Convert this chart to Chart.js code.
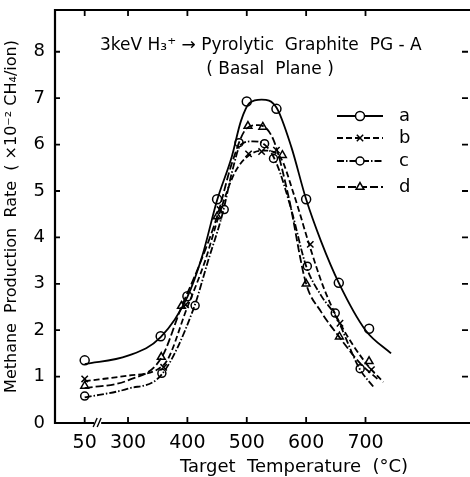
<!DOCTYPE html>
<html>
<head>
<meta charset="utf-8">
<script src="https://cdn.jsdelivr.net/npm/chart.js"></script>
<style>
  html, body { margin: 0; padding: 0; background: #fff; }
  #wrap { width: 470px; height: 477px; }
</style>
</head>
<body>
<div id="wrap"><canvas id="chart" width="470" height="477"></canvas></div>
<script>
// measured points (temperature in degC, rate in 1e-2 CH4/ion)
const tempA = [50, 355, 400, 450, 500, 550, 600, 655, 706];
const rateA = [1.35, 1.87, 2.73, 4.82, 6.93, 6.77, 4.82, 3.02, 2.03];
const tempB = [50, 360, 397, 455, 503, 525, 550, 607, 657, 710];
const rateB = [0.95, 1.2, 2.55, 4.6, 5.8, 5.85, 5.88, 3.85, 2.15, 1.15];
const tempC = [50, 357, 413, 462, 487, 530, 545, 602, 649, 691];
const rateC = [0.58, 1.07, 2.53, 4.6, 6.04, 6.02, 5.7, 3.38, 2.37, 1.17];
const tempD = [50, 356, 390, 450, 502, 527, 560, 600, 656, 706];
const rateD = [0.8, 1.42, 2.52, 4.45, 6.4, 6.38, 5.77, 3.0, 1.86, 1.33];

// hand drawn fit curves
const curveTempA = [50, 300, 355, 400, 425, 450, 475, 490, 505, 525, 550, 575, 600, 625, 655, 700, 743];
const curveRateA = [1.27, 1.45, 1.85, 2.72, 3.6, 4.8, 5.75, 6.5, 6.9, 6.97, 6.8, 5.95, 4.82, 3.92, 3.02, 2.0, 1.5];
const curveTempB = [50, 300, 360, 400, 430, 455, 480, 505, 530, 555, 580, 605, 630, 657, 700, 730];
const curveRateB = [0.9, 1.02, 1.25, 2.5, 3.5, 4.55, 5.4, 5.78, 5.87, 5.75, 4.9, 3.85, 2.9, 2.15, 1.3, 0.88];
const curveTempC = [50, 300, 357, 410, 435, 460, 475, 490, 510, 530, 550, 575, 600, 625, 650, 690, 714];
const curveRateC = [0.55, 0.74, 1.05, 2.45, 3.5, 4.55, 5.4, 6.0, 6.07, 6.0, 5.6, 4.6, 3.38, 2.75, 2.3, 1.17, 0.77];
const curveTempD = [50, 300, 356, 390, 420, 450, 475, 500, 520, 545, 570, 600, 625, 656, 690, 720];
const curveRateD = [0.75, 0.92, 1.4, 2.5, 3.4, 4.45, 5.6, 6.35, 6.42, 6.1, 4.9, 3.0, 2.4, 1.85, 1.3, 0.95];

const xTickTemps = [50, 300, 400, 500, 600, 700];
const yTicks = [0, 1, 2, 3, 4, 5, 6, 7, 8];
const seriesNames = ['a', 'b', 'c', 'd'];

// the axis is broken between 50 and 300: 50 sits at this axis position
const BREAK_POS = 227;
const pos = t => (t === 50 ? BREAK_POS : t);
const toXY = (ts, vs) => ts.map((t, i) => ({ x: pos(t), y: vs[i] }));

const FONT = '"DejaVu Sans", sans-serif';
const styles = [
  { dash: [], point: 'circle', r: 4.5 },
  { dash: [6, 3], point: 'crossRot', r: 4.5 },
  { dash: [7, 2, 1.5, 2], point: 'circle', r: 4 },
  { dash: [8, 3], point: 'triangle', r: 4.5 }
];

const curves = [[curveTempA, curveRateA], [curveTempB, curveRateB], [curveTempC, curveRateC], [curveTempD, curveRateD]];
const points = [[tempA, rateA], [tempB, rateB], [tempC, rateC], [tempD, rateD]];

const datasets = [];
curves.forEach((c, i) => {
  datasets.push({
    label: seriesNames[i] + ' fit',
    data: toXY(c[0], c[1]),
    showLine: true,
    borderColor: '#000',
    borderWidth: 1.8,
    borderDash: styles[i].dash,
    pointRadius: 0,
    cubicInterpolationMode: 'monotone',
    fill: false
  });
});
points.forEach((p, i) => {
  datasets.push({
    label: seriesNames[i],
    data: toXY(p[0], p[1]),
    showLine: false,
    pointStyle: styles[i].point,
    pointRadius: styles[i].r,
    pointBackgroundColor: '#fff',
    pointBorderColor: '#000',
    pointBorderWidth: 1.5
  });
});

const decor = {
  id: 'decor',
  afterDraw(chart) {
    const { ctx, chartArea: a, scales: { x, y } } = chart;
    ctx.save();
    ctx.strokeStyle = '#000';
    ctx.fillStyle = '#000';
    ctx.setLineDash([]);

    // frame: left, top, bottom (the right edge runs off the picture)
    ctx.lineWidth = 2.2;
    ctx.beginPath();
    ctx.moveTo(a.right, a.top); ctx.lineTo(a.left, a.top);
    ctx.lineTo(a.left, a.bottom); ctx.lineTo(a.right, a.bottom);
    ctx.stroke();

    // inward ticks
    ctx.lineWidth = 1.8;
    yTicks.forEach(v => {
      const py = y.getPixelForValue(v);
      ctx.beginPath();
      ctx.moveTo(a.left, py); ctx.lineTo(a.left + 5, py);
      ctx.moveTo(a.right - 2, py); ctx.lineTo(a.right - 8, py);
      ctx.stroke();
    });
    xTickTemps.forEach(t => {
      const px = x.getPixelForValue(pos(t));
      ctx.beginPath();
      ctx.moveTo(px, a.bottom); ctx.lineTo(px, a.bottom - 6);
      ctx.moveTo(px, a.top); ctx.lineTo(px, a.top + 6);
      ctx.stroke();
    });

    // break mark on the x axis
    const bx = x.getPixelForValue(248);
    ctx.fillStyle = '#fff';
    ctx.fillRect(bx - 3, a.bottom - 3, 7, 6);
    ctx.lineWidth = 1.4;
    [-2, 2].forEach(d => {
      ctx.beginPath();
      ctx.moveTo(bx + d - 2, a.bottom + 4);
      ctx.lineTo(bx + d + 2, a.bottom - 5);
      ctx.stroke();
    });
    ctx.fillStyle = '#000';

    // annotation
    ctx.textBaseline = 'middle';
    ctx.textAlign = 'left';
    ctx.font = '17px ' + FONT;
    ctx.fillText('3keV H\u2083\u207A \u2192 Pyrolytic  Graphite  PG - A', 100, 46);
    ctx.textAlign = 'center';
    ctx.fillText('( Basal  Plane )', 270, 70);

    // legend
    const rows = [116, 138, 161, 187];
    rows.forEach((ry, i) => {
      ctx.lineWidth = 1.8;
      ctx.setLineDash(styles[i].dash);
      ctx.beginPath();
      ctx.moveTo(337, ry); ctx.lineTo(383, ry);
      ctx.stroke();
      ctx.setLineDash([]);
      ctx.lineWidth = 1.5;
      ctx.fillStyle = '#fff';
      Chart.helpers.drawPoint(ctx, { pointStyle: styles[i].point, radius: styles[i].r, rotation: 0, borderWidth: 1.5 }, 360, ry);
      ctx.fillStyle = '#000';
      ctx.font = '18px ' + FONT;
      ctx.textAlign = 'left';
      ctx.fillText(seriesNames[i], 399, ry);
    });

    // x axis title
    ctx.font = '18px ' + FONT;
    ctx.textAlign = 'center';
    ctx.fillText('Target  Temperature  (\u00B0C)', 294, 467);
    ctx.restore();
  }
};

new Chart(document.getElementById('chart'), {
  type: 'scatter',
  data: { datasets },
  options: {
    responsive: false,
    animation: false,
    layout: { autoPadding: false, padding: { top: 10, right: 0, left: 0, bottom: 0 } },
    plugins: { legend: { display: false }, tooltip: { enabled: false } },
    scales: {
      x: {
        type: 'linear',
        min: 177,
        max: 876,
        grid: { display: false, drawTicks: false },
        border: { display: false },
        afterBuildTicks: s => { s.ticks = xTickTemps.map(t => ({ value: pos(t) })); },
        afterFit: s => { s.height = 54; s.paddingLeft = 0; s.paddingRight = 0; },
        ticks: {
          padding: 9,
          color: '#000',
          font: { family: FONT, size: 19 },
          callback: v => (v === BREAK_POS ? '50' : String(v))
        }
      },
      y: {
        min: 0,
        max: 8.9,
        grid: { display: false, drawTicks: false },
        border: { display: false },
        afterBuildTicks: s => { s.ticks = yTicks.map(v => ({ value: v })); },
        afterFit: s => { s.width = 55; s.paddingTop = 0; s.paddingBottom = 0; },
        ticks: {
          padding: 10,
          color: '#000',
          font: { family: FONT, size: 18 }
        },
        title: {
          display: true,
          text: 'Methane  Production  Rate  ( \u00D710\u207B\u00B2 CH\u2084/ion)',
          color: '#000',
          font: { family: FONT, size: 16 },
          padding: { top: 2, bottom: 0 }
        }
      }
    }
  },
  plugins: [decor]
});
</script>
</body>
</html>
